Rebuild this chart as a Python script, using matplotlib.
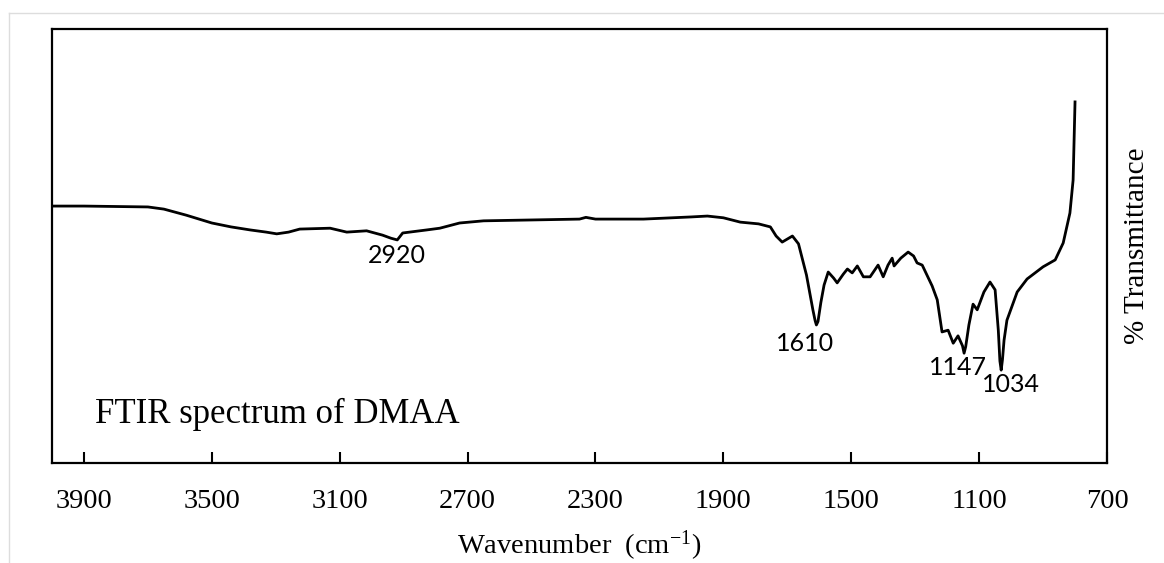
import matplotlib
matplotlib.use("Agg")
import matplotlib.pyplot as plt
from matplotlib.lines import Line2D

plt.rcParams['mathtext.fontset'] = 'custom'
plt.rcParams['mathtext.rm'] = 'Liberation Serif'
plt.rcParams['mathtext.it'] = 'Liberation Serif:italic'

wavenumber = [4000, 3900, 3800, 3700, 3650, 3580, 3500, 3440, 3380, 3330, 3297, 3260,
              3225, 3130, 3078, 3016, 2966, 2940, 2920, 2903, 2828, 2787, 2725, 2650,
              2500, 2350, 2330, 2300, 2150, 2000, 1950, 1900, 1847, 1790, 1753, 1735,
              1716, 1700, 1684, 1665, 1640, 1620, 1613, 1609, 1604, 1595, 1585, 1572,
              1555, 1544, 1525, 1512, 1497, 1481, 1462, 1441, 1416, 1400, 1385, 1372,
              1366, 1345, 1322, 1305, 1294, 1278, 1247, 1231, 1216, 1197, 1181, 1166,
              1152, 1147, 1142, 1132, 1119, 1106, 1085, 1066, 1050, 1040, 1035, 1031,
              1027, 1022, 1013, 981, 950, 900, 862, 837, 816, 806, 800]
transmittance = [59.2, 59.2, 59.1, 59.0, 58.5, 57.1, 55.3, 54.4, 53.7, 53.2, 52.8, 53.2,
                 53.9, 54.1, 53.2, 53.5, 52.5, 51.8, 51.4, 53.0, 53.7, 54.1, 55.3, 55.8,
                 56.0, 56.2, 56.6, 56.2, 56.2, 56.7, 56.9, 56.5, 55.5, 55.1, 54.4, 52.3,
                 50.9, 51.6, 52.3, 50.5, 43.3, 35.3, 32.8, 31.8, 32.6, 37.0, 41.0, 44.0,
                 42.6, 41.5, 43.5, 44.7, 43.8, 45.4, 42.9, 42.9, 45.6, 42.9, 45.6, 47.2,
                 45.4, 47.2, 48.6, 47.7, 46.1, 45.6, 40.8, 37.6, 30.2, 30.6, 27.6, 29.3,
                 27.0, 25.3, 26.8, 31.8, 36.6, 35.3, 39.4, 41.7, 39.9, 30.6, 23.5, 21.4,
                 23.8, 28.3, 32.9, 39.4, 42.4, 45.2, 46.8, 50.7, 57.6, 65.2, 83.2]

peak_labels = ["2920", "1610", "1147", "1034"]
peak_label_x = [2920, 1644, 1166, 1000]
peak_label_y = [47.7, 27.6, 21.9, 18.2]

xticks = [3900, 3500, 3100, 2700, 2300, 1900, 1500, 1100, 700]

fig = plt.figure(figsize=(11.64, 5.63), dpi=100)
ax = fig.add_axes([52/1164, 100/563, (1107-52)/1164, (463-29)/563])

ax.plot(wavenumber, transmittance, color='black', lw=2.0, solid_joinstyle='round')
ax.set_xlim(4000, 700)
ax.set_ylim(0, 100)
ax.set_xticks(xticks)
ax.set_xticklabels([str(t) for t in xticks], fontfamily='Liberation Serif', fontsize=20.5)
ax.set_yticks([])
ax.tick_params(axis='x', direction='in', length=8, width=1.5, pad=19)
for s in ax.spines.values():
    s.set_linewidth(1.6)

ax.set_xlabel(r'Wavenumber  (cm$^{\mathrm{-1}}$)', fontfamily='Liberation Serif',
              fontsize=20.5, labelpad=10)
ax.yaxis.set_label_position('right')
ax.set_ylabel('% Transmittance', fontfamily='Liberation Serif', fontsize=21,
              labelpad=12)

for lab, x, y in zip(peak_labels, peak_label_x, peak_label_y):
    ax.text(x, y, lab, fontfamily='Lato', fontsize=18, ha='center', va='center')

ax.text(3866, 9.2, 'FTIR spectrum of DMAA', fontfamily='Liberation Serif',
        fontsize=25, ha='left', va='baseline')

# light screenshot frame
fig.add_artist(Line2D([9/1164, 1.0], [1-13/563, 1-13/563], color='#dddddd', lw=1))
fig.add_artist(Line2D([9/1164, 9/1164], [0, 1-13/563], color='#dddddd', lw=1))

fig.savefig('out.png', dpi=100)
